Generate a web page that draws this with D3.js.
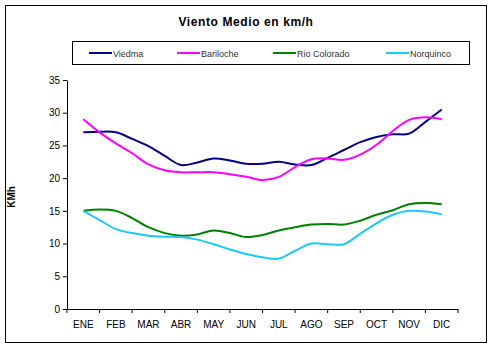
<!DOCTYPE html>
<html>
<head>
<meta charset="utf-8">
<script src="https://cdn.jsdelivr.net/npm/d3@7"></script>
<style>
  body { margin: 0; background: #fff; }
  svg { display: block; font-family: "Liberation Sans", Arial, sans-serif; }
</style>
</head>
<body>
<div id="app"></div>
<script>
// meses del eje x
const MESES = ["ENE", "FEB", "MAR", "ABR", "MAY", "JUN", "JUL", "AGO", "SEP", "OCT", "NOV", "DIC"]
const Y_TICKS = [0, 5, 10, 15, 20, 25, 30, 35]

// valores cada medio mes (ENE, mediados ENE-FEB, FEB, ...)
const viedma = [27.0, 27.1, 27.0, 26.0, 24.9, 23.4, 22.0, 22.4, 23.0, 22.7, 22.2, 22.2,
    22.5, 22.1, 22.0, 23.1, 24.3, 25.5, 26.3, 26.7, 26.8, 28.6, 30.5]
const bariloche = [29.0, 27.0, 25.3, 23.8, 22.1, 21.2, 20.9, 20.9, 20.9, 20.6, 20.2, 19.7,
    20.2, 21.7, 22.9, 23.0, 22.8, 23.6, 25.1, 27.2, 28.9, 29.3, 29.0]
const rioColorado = [15.0, 15.2, 15.0, 13.9, 12.5, 11.6, 11.2, 11.4, 12.0, 11.6, 11.0, 11.3,
    12.0, 12.5, 12.9, 13.0, 12.9, 13.5, 14.4, 15.1, 16.0, 16.2, 16.0]
const norquinco = [15.0, 13.6, 12.2, 11.6, 11.2, 11.05, 11.0, 10.6, 9.9, 9.1, 8.4, 7.9,
    7.7, 8.9, 10.0, 9.9, 9.9, 11.5, 13.1, 14.4, 15.0, 14.9, 14.5]

const series = [
    {name: "Viedma", values: viedma, color: "#000080"},
    {name: "Bariloche", values: bariloche, color: "#ff00ff"},
    {name: "Rio Colorado", values: rioColorado, color: "#008000"},
    {name: "Norquinco", values: norquinco, color: "#1ec8f5"},
]

const width = 492, height = 349

const svg = d3.select("#app").append("svg")
    .attr("width", width)
    .attr("height", height)

// marco exterior
svg.append("rect")
    .attr("x", 5.5).attr("y", 5.5)
    .attr("width", 481).attr("height", 337)
    .attr("fill", "#fff").attr("stroke", "#000").attr("stroke-width", 1)

svg.append("text")
    .attr("x", 246).attr("y", 26)
    .attr("text-anchor", "middle")
    .attr("font-size", 12).attr("font-weight", "bold")
    .attr("letter-spacing", 0.6)
    .text("Viento Medio en km/h")

// escalas
const x = d3.scaleBand(MESES, [67, 458]).padding(0)
const bw = x.bandwidth()
const xi = d3.scaleLinear([0, MESES.length - 1], [x(MESES[0]) + bw / 2, x(MESES[MESES.length - 1]) + bw / 2])
const y = d3.scaleLinear([0, 35], [309, 80])

// eje y
const gy = svg.append("g")
    .attr("transform", `translate(${x.range()[0]},0)`)
    .call(d3.axisLeft(y).tickValues(Y_TICKS).tickSize(4).tickSizeOuter(0))
gy.select(".domain").attr("stroke", "#000")
gy.selectAll(".tick line").attr("stroke", "#000")
gy.selectAll(".tick text").attr("font-size", 10).attr("font-family", "Liberation Sans, Arial, sans-serif")
    .attr("fill", "#000").attr("x", -7)

// eje x: etiquetas centradas, marcas entre meses
const gx = svg.append("g")
    .attr("transform", `translate(0,${y(0)})`)
    .call(d3.axisBottom(x).tickSize(0).tickSizeOuter(0).tickPadding(12))
gx.select(".domain").attr("stroke", "#000")
gx.selectAll(".tick text").attr("font-size", 10).attr("font-family", "Liberation Sans, Arial, sans-serif")
    .attr("fill", "#000")
gx.selectAll(".sep")
    .data([...MESES.map(m => x(m)), x.range()[1]])
    .join("line")
    .attr("class", "sep")
    .attr("x1", d => d).attr("x2", d => d)
    .attr("y1", 0).attr("y2", 4)
    .attr("stroke", "#000")

svg.append("text")
    .attr("transform", "translate(15,197) rotate(-90)")
    .attr("text-anchor", "middle")
    .attr("font-size", 10).attr("font-weight", "bold")
    .text("KMh")

// líneas suavizadas
const line = d3.line()
    .x((d, i) => xi(i / 2))
    .y(d => y(d))
    .curve(d3.curveCatmullRom.alpha(0.5))

svg.append("g")
    .selectAll("path")
    .data(series)
    .join("path")
    .attr("d", d => line(d.values))
    .attr("fill", "none")
    .attr("stroke", d => d.color)
    .attr("stroke-width", 2)

// leyenda
svg.append("rect")
    .attr("x", 72.5).attr("y", 41.5)
    .attr("width", 397).attr("height", 23)
    .attr("fill", "#fff").attr("stroke", "#000")

const legendX = [89, 177, 273, 386]
const item = svg.append("g")
    .selectAll("g")
    .data(series)
    .join("g")
    .attr("transform", (d, i) => `translate(${legendX[i]},53)`)
item.append("line")
    .attr("x1", 0).attr("x2", 23)
    .attr("stroke", d => d.color).attr("stroke-width", 2)
item.append("text")
    .attr("x", 24).attr("y", 3.5)
    .attr("font-size", 9).attr("fill", "#333")
    .text(d => d.name)
</script>
</body>
</html>
